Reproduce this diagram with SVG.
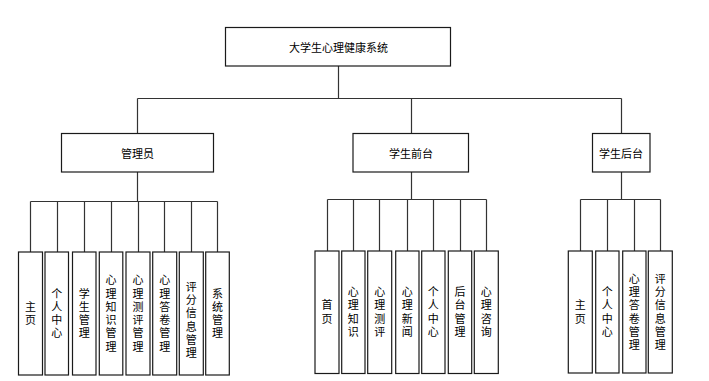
<svg xmlns="http://www.w3.org/2000/svg" width="709" height="381" viewBox="0 0 709 381">
<style>
.box{fill:#fff;stroke:#1a1a1a;stroke-width:1.2}
.ln{fill:none;stroke:#333;stroke-width:1.2}
text{font-family:"Noto Sans CJK SC","Noto Sans CJK TC",sans-serif;font-size:11px;fill:#000;text-anchor:middle;dominant-baseline:central}
.v{writing-mode:vertical-rl;letter-spacing:2.3px}
</style>
<rect width="709" height="381" fill="#fff"/>
<g id="connectors">
<path class="ln" d="M338.5 66V98.5M137.5 98.5H621.5M137.5 98.5V133M411.5 98.5V133M621.5 98.5V133"/>
<path class="ln" d="M137.5 172V201.5M30.5 201.5H217.5M30.5 201.5V252M57.5 201.5V252M84.5 201.5V252M111.5 201.5V252M138.5 201.5V252M164.5 201.5V252M191.5 201.5V252M217.5 201.5V252"/>
<path class="ln" d="M411.5 172V199.5M327.5 199.5H486.5M327.5 199.5V251M353.5 199.5V251M379.5 199.5V251M407.5 199.5V251M433.5 199.5V251M460.5 199.5V251M486.5 199.5V251"/>
<path class="ln" d="M621.5 172V199.5M580.5 199.5H660.5M580.5 199.5V251M607.5 199.5V251M634.5 199.5V251M660.5 199.5V251"/>
</g>
<g id="root"><rect class="box" x="225.5" y="27.5" width="225" height="38.5"/><text x="338.5" y="47">大学生心理健康系统</text></g>
<g id="admin"><rect class="box" x="61.5" y="133.5" width="152" height="38.5"/><text x="137.5" y="153">管理员</text></g>
<g id="front"><rect class="box" x="353" y="133.5" width="115.5" height="38.5"/><text x="411" y="153">学生前台</text></g>
<g id="back"><rect class="box" x="592.5" y="133.5" width="57.5" height="38.5"/><text x="621" y="153">学生后台</text></g>

<g id="a1"><rect class="box" x="18.5" y="252" width="24" height="123"/><text class="v" x="30.5" y="314.5">主页</text></g>
<g id="a2"><rect class="box" x="45" y="252" width="23.5" height="123"/><text class="v" x="56.8" y="314.5">个人中心</text></g>
<g id="a3"><rect class="box" x="72.5" y="252" width="23.5" height="123"/><text class="v" x="84.3" y="314.5">学生管理</text></g>
<g id="a4"><rect class="box" x="99.3" y="252" width="23.5" height="123"/><text class="v" x="111" y="314.5">心理知识管理</text></g>
<g id="a5"><rect class="box" x="126" y="252" width="24" height="123"/><text class="v" x="138" y="314.5">心理测评管理</text></g>
<g id="a6"><rect class="box" x="152.7" y="252" width="24" height="123"/><text class="v" x="164.7" y="314.5">心理答卷管理</text></g>
<g id="a7"><rect class="box" x="179.3" y="252" width="24" height="123"/><text class="v" x="191.3" y="321">评分信息管理</text></g>
<g id="a8"><rect class="box" x="205.7" y="252" width="23.6" height="123"/><text class="v" x="217.5" y="314.5">系统管理</text></g>

<g id="f1"><rect class="box" x="315" y="251" width="24" height="122.5"/><text class="v" x="327" y="313">首页</text></g>
<g id="f2"><rect class="box" x="341.7" y="251" width="23.3" height="122.5"/><text class="v" x="353.3" y="313">心理知识</text></g>
<g id="f3"><rect class="box" x="367.7" y="251" width="24" height="122.5"/><text class="v" x="379.7" y="313">心理测评</text></g>
<g id="f4"><rect class="box" x="395.7" y="251" width="23.3" height="122.5"/><text class="v" x="407.3" y="313">心理新闻</text></g>
<g id="f5"><rect class="box" x="421.7" y="251" width="23.3" height="122.5"/><text class="v" x="433.3" y="313">个人中心</text></g>
<g id="f6"><rect class="box" x="448.3" y="251" width="23.4" height="122.5"/><text class="v" x="460" y="313">后台管理</text></g>
<g id="f7"><rect class="box" x="474.3" y="251" width="24" height="122.5"/><text class="v" x="486.3" y="313">心理咨询</text></g>

<g id="b1"><rect class="box" x="568.3" y="251" width="24" height="122"/><text class="v" x="580.3" y="313">主页</text></g>
<g id="b2"><rect class="box" x="595.7" y="251" width="23.3" height="122"/><text class="v" x="607.3" y="313">个人中心</text></g>
<g id="b3"><rect class="box" x="622.7" y="251" width="23.3" height="122"/><text class="v" x="634.3" y="313">心理答卷管理</text></g>
<g id="b4"><rect class="box" x="648.3" y="251" width="24" height="122"/><text class="v" x="660.3" y="313">评分信息管理</text></g>
</svg>
